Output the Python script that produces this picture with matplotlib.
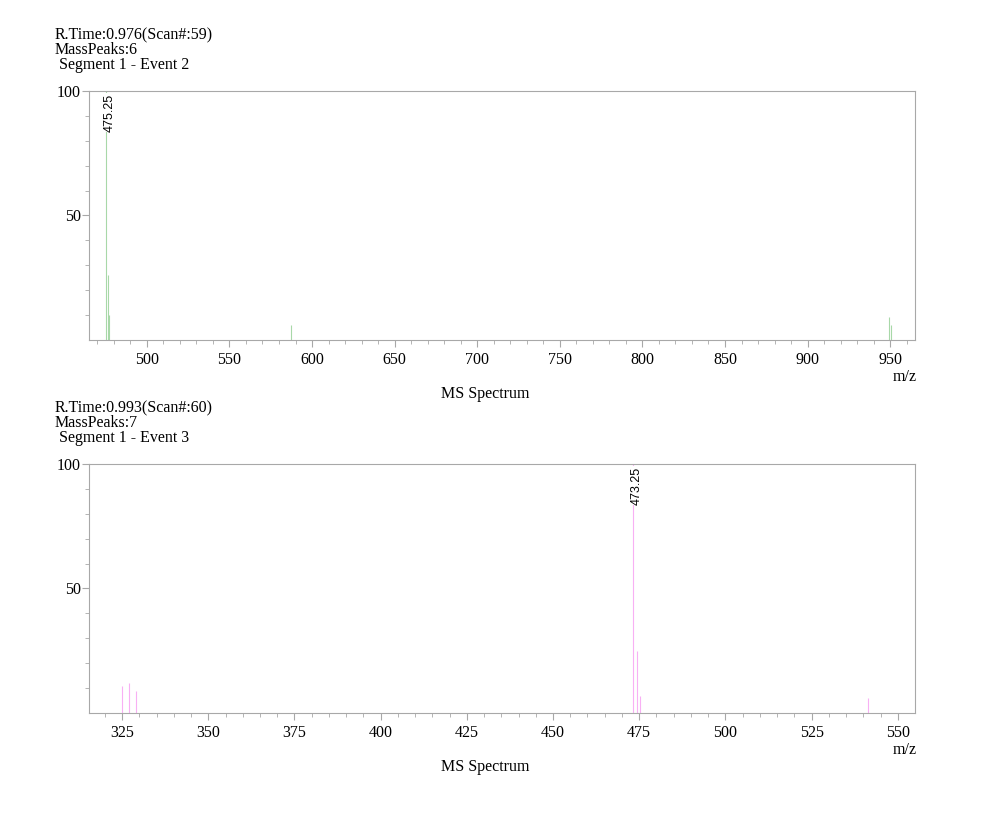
import matplotlib.pyplot as plt
import numpy as np

# top spectrum (Scan 59)
mz1 = [475.25, 476.25, 477.25, 587.5, 949.5, 950.5]
int1 = [100, 26, 10, 6, 9, 6]
label1 = 475.25
header1 = ['R.Time:0.976(Scan#:59)', 'MassPeaks:6', ' Segment 1 - Event 2']

# bottom spectrum (Scan 60)
mz2 = [325.0, 327.0, 329.0, 473.25, 474.25, 475.25, 541.3]
int2 = [11, 12, 9, 100, 25, 7, 6]
label2 = 473.25
header2 = ['R.Time:0.993(Scan#:60)', 'MassPeaks:7', ' Segment 1 - Event 3']

plt.rcParams['font.family'] = ['Liberation Serif', 'DejaVu Serif']


def drawPanel(fig, rect, mz, inten, color, xlim, xmajor, xminor, peakLabel, header):
    ax = fig.add_axes(rect)
    ax.vlines(mz, 0, inten, color=color, lw=0.8)
    ax.set_xlim(*xlim)
    ax.set_ylim(0, 100)
    ax.set_xticks(np.arange(xmajor[0], xlim[1], xmajor[1]))
    ax.set_xticks(np.arange(xminor[0], xlim[1], xminor[1]), minor=True)
    ax.set_yticks([50, 100])
    ax.set_yticks(np.arange(10, 100, 10), minor=True)
    for s in ax.spines.values():
        s.set_color('#a8a8a8')
        s.set_linewidth(0.8)
    ax.tick_params(which='both', direction='out', color='#a8a8a8', labelsize=11.5, labelcolor='black')
    ax.tick_params(which='major', length=5)
    ax.tick_params(which='minor', length=3)
    ax.tick_params(axis='y', pad=1)

    ax.text(peakLabel + 0.004 * (xlim[1] - xlim[0]), 99, '%.2f' % peakLabel, rotation=90,
            ha='center', va='top', fontsize=9, family='Liberation Sans',
            bbox=dict(facecolor='white', edgecolor='none', pad=0.5))

    ax.text(0.987, -0.149, 'm/z', transform=ax.transAxes, ha='center', va='center', fontsize=11.5)
    ax.text(0.48, -0.217, 'MS Spectrum', transform=ax.transAxes, ha='center', va='center', fontsize=11.5)

    top = rect[1] + rect[3]
    for i, line in enumerate(header):
        fig.text(0.055, top + 0.068 - i * 0.0185, line, ha='left', va='center', fontsize=11.5)
    return ax


fig = plt.figure(figsize=(10, 8.23), dpi=100)

drawPanel(fig, [0.089, 0.587, 0.826, 0.3025], mz1, int1, '#a8d8a8',
          (465, 965), (500, 50), (470, 10), label1, header1)
drawPanel(fig, [0.089, 0.1337, 0.826, 0.3025], mz2, int2, '#f8b0f4',
          (315.4, 555), (325, 25), (320, 5), label2, header2)

fig.savefig('out.png', dpi=100, facecolor='white')
